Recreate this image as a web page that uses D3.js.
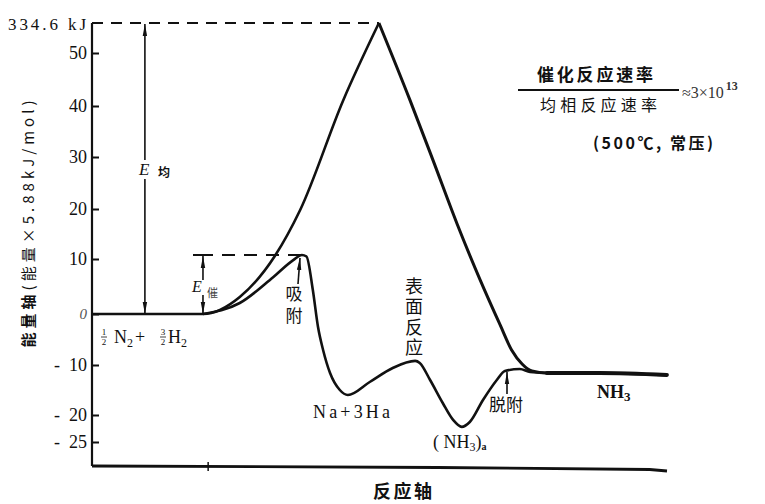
<!DOCTYPE html>
<html><head><meta charset="utf-8">
<script src="https://cdn.jsdelivr.net/npm/d3@7/dist/d3.min.js"></script>
<style>
body{margin:0;background:#fff;}
svg{display:block;}
.serif{font-family:"Liberation Serif","DejaVu Serif",serif;}
.cjk{font-family:"Noto Sans CJK SC",sans-serif;}
</style></head>
<body>
<svg id="chart" width="765" height="504"></svg>
<script>
// ---- data ----
// reaction coordinate (0..100) and energy (units of 5.88 kJ/mol)
const uncatX = [0, 19.3, 25.7, 31.8, 36.2, 43.7, 49.9, 55.3, 59.3, 63.5, 67.5, 71.0, 73.0, 74.8, 76.5, 79.1, 88.3, 100];
const uncatY = [0, 0, 3.1, 10.6, 19.8, 41.1, 56.9, 41.1, 29.4, 17.0, 6.2, -2.2, -7.1, -9.8, -11.2, -11.6, -11.6, -12];
const uncatPeakIndex = 6;
const catX = [19.3, 25.7, 31.5, 35.0, 36.5, 37.3, 38.4, 39.3, 40.2, 41.4, 43.1, 44.5, 48.3, 52.3, 56.2, 57.0, 58.8, 61.0, 62.8, 64.3, 65.7, 68.0, 70.4, 71.8, 74.4, 76.2, 79.1];
const catY = [0, 2.0, 6.7, 9.8, 10.8, 10.5, 4.4, -2.5, -7.1, -11.6, -15.0, -16.0, -13.4, -10.6, -9.2, -9.6, -13.0, -17.6, -20.9, -22.2, -21.3, -17.0, -13.0, -11.2, -10.8, -11.4, -11.6];
const yTicks = [50, 40, 30, 20, 10, 0, -10, -20, -25];
const topValue = 56.9;        // 334.6 kJ / 5.88
const topLabel = "334.6 kJ";
const catPeak = 10.8;
const uncatPeakX = 49.9, catArrowX = 19.3, eUncatX = 9.2;

// ---- scales ----
const svg = d3.select("#chart");
const x = d3.scaleLinear().domain([0, 100]).range([92, 667]);
const y = d3.scaleLinear()
  .domain([-25, -20, -10, 0, 10, 20, 30, 40, 50, 56.9])
  .range([442, 415, 365, 314, 259, 209, 157, 106, 53, 23]);

// markers
const defs = svg.append("defs");
defs.append("marker").attr("id","arr").attr("viewBox","0 0 12 6")
  .attr("refX",12).attr("refY",3).attr("markerWidth",12).attr("markerHeight",6)
  .attr("markerUnits","userSpaceOnUse").attr("orient","auto")
  .append("path").attr("d","M0,0.8 L12,3 L0,5.2 Z").attr("fill","#111");

const ink = "#111";

// ---- axes ----
const yAxis = d3.axisLeft(y).tickValues(yTicks).tickSize(-7).tickPadding(5)
  .tickFormat(d => d < 0 ? "-\u00a0\u00a0" + Math.abs(d) : String(d));
const gy = svg.append("g").attr("transform", `translate(${x(0)},0)`).call(yAxis);
gy.select(".domain").remove();
gy.selectAll(".tick line").attr("stroke", ink).attr("stroke-width", 2);
gy.selectAll(".tick text").attr("class","serif").attr("font-size", 18).attr("fill", ink)
  .attr("font-family","Liberation Serif, serif");
gy.selectAll(".tick").filter(d => d === 0).select("text").attr("fill","#555").attr("font-style","italic").attr("font-size",15);

svg.append("line").attr("x1", x(0)).attr("x2", x(0)).attr("y1", y(topValue)).attr("y2", 466)
  .attr("stroke", ink).attr("stroke-width", 2.2);
svg.append("path").attr("d", `M${x(0)},466 L${x(60)},467.5 L${x(97)},469.5 L${x(100)},471`)
  .attr("fill","none").attr("stroke", ink).attr("stroke-width", 2.8);
svg.append("line").attr("x1", x(20.2)).attr("x2", x(20.2)).attr("y1", 462).attr("y2", 471)
  .attr("stroke", ink).attr("stroke-width", 1.5);

// top label
svg.append("text").attr("class","serif").attr("x", 8).attr("y", 30).attr("font-size", 17)
  .attr("textLength", 78).attr("lengthAdjust","spacing").attr("fill", ink).text(topLabel);

// y axis title
svg.append("text").attr("class","cjk").attr("transform","translate(34,224) rotate(-90)")
  .attr("text-anchor","middle").attr("font-size",15).attr("textLength",247).attr("lengthAdjust","spacing")
  .attr("fill", ink)
  .call(t => { t.append("tspan").attr("font-weight","bold").text("能量轴");
               t.append("tspan").text("(能量×5.88kJ/mol)"); });

// x axis title
svg.append("text").attr("class","cjk").attr("x", 373).attr("y", 498).attr("font-size", 18)
  .attr("font-weight","bold").attr("textLength", 59).attr("lengthAdjust","spacing").attr("fill", ink).text("反应轴");

// ---- dashed guides ----
svg.append("line").attr("x1", x(0)).attr("x2", x(uncatPeakX)).attr("y1", y(topValue)).attr("y2", y(topValue))
  .attr("stroke", ink).attr("stroke-width", 2).attr("stroke-dasharray","11,8");
svg.append("line").attr("x1", 193).attr("x2", x(36.5)).attr("y1", y(catPeak)).attr("y2", y(catPeak))
  .attr("stroke", ink).attr("stroke-width", 2).attr("stroke-dasharray","20,9,13,9,13,9,13,9");

// ---- curves ----
const line = d3.line().x(d => x(d[0])).y(d => y(d[1])).curve(d3.curveMonotoneX);
const uncat = uncatX.map((v, i) => [v, uncatY[i]]);
const cat = catX.map((v, i) => [v, catY[i]]);
svg.append("path").datum(uncat.slice(0, uncatPeakIndex + 1)).attr("d", line)
  .attr("fill","none").attr("stroke", ink).attr("stroke-width", 2.6).attr("stroke-linejoin","round");
svg.append("path").datum(uncat.slice(uncatPeakIndex)).attr("d", line)
  .attr("fill","none").attr("stroke", ink).attr("stroke-width", 3).attr("stroke-linejoin","round");
svg.append("path").datum(cat).attr("d", line)
  .attr("fill","none").attr("stroke", ink).attr("stroke-width", 2.6).attr("stroke-linejoin","round");
// thicker NH3 tail
svg.append("path").datum(uncat.slice(uncat.length - 3)).attr("d", line)
  .attr("fill","none").attr("stroke", ink).attr("stroke-width", 3.8).attr("stroke-linecap","round");

// ---- energy arrows ----
function arrow(x1, y1, x2, y2) {
  svg.append("line").attr("x1", x1).attr("y1", y1).attr("x2", x2).attr("y2", y2)
    .attr("stroke", ink).attr("stroke-width", 1.6).attr("marker-end","url(#arr)");
}
const eX = x(eUncatX);
arrow(eX, 160, eX, y(topValue) + 1);
arrow(eX, 179, eX, y(0));
svg.append("text").attr("class","serif").attr("x", eX - 6).attr("y", 175).attr("font-size", 17)
  .attr("font-style","italic").attr("fill", ink).text("E");
svg.append("text").attr("class","cjk").attr("x", eX + 13).attr("y", 177).attr("font-size", 12)
  .attr("font-weight","bold").attr("fill", ink).text("均");

const cX = x(catArrowX);
arrow(cX, 280, cX, y(catPeak) + 1);
arrow(cX, 295, cX, y(0));
svg.append("text").attr("class","serif").attr("x", cX - 11).attr("y", 292).attr("font-size", 16)
  .attr("font-style","italic").attr("fill", ink).text("E");
svg.append("text").attr("class","cjk").attr("x", cX + 4).attr("y", 297).attr("font-size", 11)
  .attr("fill", "#444").text("催");

// adsorption / desorption arrows
arrow(298, 284, 300, y(catPeak) + 3);
arrow(507, 394, 507, 372);

// ---- labels ----
function frac(px, num, den) {
  svg.append("text").attr("class","serif").attr("x", px).attr("y", 335).attr("font-size", 9)
    .attr("text-anchor","middle").attr("fill", ink).text(num);
  svg.append("line").attr("x1", px - 3).attr("x2", px + 3).attr("y1", 337).attr("y2", 337)
    .attr("stroke", ink).attr("stroke-width", 0.8);
  svg.append("text").attr("class","serif").attr("x", px).attr("y", 345).attr("font-size", 9)
    .attr("text-anchor","middle").attr("fill", ink).text(den);
}
frac(104, "1", "2");
frac(163, "3", "2");
svg.append("text").attr("class","serif").attr("x", 114).attr("y", 343).attr("font-size", 18).attr("fill", ink)
  .call(t => { t.append("tspan").text("N"); t.append("tspan").attr("font-size", 12).attr("dy", 4).text("2");
               t.append("tspan").attr("dy", -4).attr("dx", 2).text("+"); });
svg.append("text").attr("class","serif").attr("x", 168).attr("y", 343).attr("font-size", 18).attr("fill", ink)
  .call(t => { t.append("tspan").text("H"); t.append("tspan").attr("font-size", 12).attr("dy", 4).text("2"); });

function vtext(cx, top, str, size, gap) {
  svg.append("text").attr("class","cjk").attr("x", cx).attr("y", top).attr("font-size", size)
    .attr("fill", ink).style("writing-mode","vertical-rl").style("text-orientation","upright")
    .attr("letter-spacing", gap).text(str);
}
vtext(294, 285, "吸附", 17, 5);
vtext(414, 277, "表面反应", 18, 2.5);

svg.append("text").attr("class","serif").attr("x", 313).attr("y", 418).attr("font-size", 18)
  .attr("textLength", 77).attr("lengthAdjust","spacing").attr("fill", ink).text("Na+3Ha");

svg.append("text").attr("class","serif").attr("x", 433).attr("y", 448).attr("font-size", 18).attr("fill", ink)
  .call(t => { t.append("tspan").text("( NH");
               t.append("tspan").attr("font-size", 12).attr("dy", 3).text("3");
               t.append("tspan").attr("dy", -3).text(")");
               t.append("tspan").attr("font-size", 10).attr("font-weight","bold").attr("dy", 2).text("a"); });

svg.append("text").attr("class","cjk").attr("x", 489).attr("y", 411).attr("font-size", 17)
  .attr("fill", ink).text("脱附");

svg.append("text").attr("class","serif").attr("x", 597).attr("y", 398).attr("font-size", 18)
  .attr("font-weight","bold").attr("fill", ink)
  .call(t => { t.append("tspan").text("NH"); t.append("tspan").attr("font-size", 13).attr("dy", 3).text("3"); });

// rate ratio
svg.append("text").attr("class","cjk").attr("x", 537).attr("y", 81).attr("font-size", 17)
  .attr("font-weight","bold").attr("textLength", 116).attr("lengthAdjust","spacing").attr("fill", ink).text("催化反应速率");
svg.append("line").attr("x1", 518).attr("x2", 679).attr("y1", 90).attr("y2", 90)
  .attr("stroke", ink).attr("stroke-width", 2);
svg.append("text").attr("class","cjk").attr("x", 540).attr("y", 111).attr("font-size", 16)
  .attr("textLength", 117).attr("lengthAdjust","spacing").attr("fill", ink).text("均相反应速率");
svg.append("text").attr("class","serif").attr("x", 682).attr("y", 98).attr("font-size", 16).attr("fill", "#333")
  .call(t => { t.append("tspan").text("≈3×10");
               t.append("tspan").attr("font-size", 12).attr("font-weight","bold").attr("dy", -8).attr("dx", 2).text("13"); });
svg.append("text").attr("class","cjk").attr("x", 593).attr("y", 149).attr("font-size", 16)
  .attr("font-weight","bold").attr("textLength", 120).attr("lengthAdjust","spacing").attr("fill", ink).text("(500℃, 常压)");
</script>
</body></html>
